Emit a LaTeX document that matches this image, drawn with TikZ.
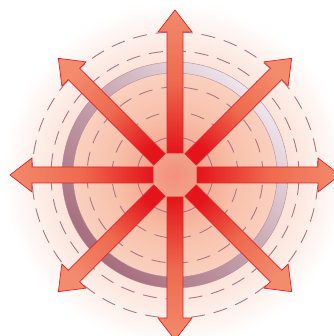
\documentclass[tikz,border=0pt]{standalone}
\usetikzlibrary{calc}

\definecolor{glowcore}{HTML}{F2A089}
\definecolor{glowmid}{HTML}{F8C0AA}
\definecolor{glowedge}{HTML}{FAD0BF}
\definecolor{glowout}{HTML}{FCE3D9}
\definecolor{ringdark}{HTML}{A66D7D}
\definecolor{ringlight}{HTML}{EFE5EC}
\definecolor{dashcol}{HTML}{B07585}
\definecolor{arrowdark}{HTML}{E4141A}
\definecolor{arrowmid}{HTML}{EE6A4E}
\definecolor{arrowlight}{HTML}{F38B6D}
\definecolor{arrowline}{HTML}{E6222A}

\pgfdeclareradialshading{glow}{\pgfpoint{0bp}{0bp}}{%
  color(0bp)=(glowcore); color(3bp)=(glowcore);
  color(9bp)=(glowmid); color(14.8bp)=(glowedge);
  color(16.4bp)=(glowout); color(19bp)=(glowout!75!white);
  color(25bp)=(white); color(50bp)=(white)}

\tikzset{
  ringline/.style={draw=dashcol,line width=0.9pt},
  ringdash/.style={ringline,dash pattern=on 14pt off 9pt},
  ringedge/.style={draw=ringdark!80,line width=0.4pt},
  arrowbody/.style={draw=arrowline,line width=0.7pt,line join=miter},
}

\begin{document}
\begin{tikzpicture}[x=1pt,y=1pt]
  \useasboundingbox (0,0) rectangle (333,336);
  \coordinate (ctr) at (175,161);

  % glow behind everything
  \shade[shading=glow] (ctr) circle (172);

  % rings
  \draw[ringdash] (ctr) circle (143);
  \draw[ringdash] (ctr) circle (124);
  \shade[even odd rule,bottom color=ringdark,top color=ringlight,
    middle color=ringdark!55!ringlight,shading angle=-45]
    (ctr) circle (113) (ctr) circle (102);
  \draw[ringedge] (ctr) circle (113) (ctr) circle (102);
  \draw[ringdash] (ctr) circle (88);
  \draw[ringdash] (ctr) circle (63);
  \draw[ringline] (ctr) circle (38);

  % hub
  \shade[inner color=glowcore!90!red,outer color=glowcore] (ctr) circle (22);

  % eight arrows
  \begin{scope}[shift={(ctr)}]
    \foreach \a [evaluate=\a as \sa using \a-90] in {0,45,...,315}
      \shade[arrowbody,rotate=\a,bottom color=arrowdark,top color=arrowlight,
        middle color=arrowmid,shading angle=\sa]
        (22,-8) -- (143,-8) -- (143,-17) -- (165,0) -- (143,17)
        -- (143,8) -- (22,8) -- cycle;
  \end{scope}
\end{tikzpicture}
\end{document}
